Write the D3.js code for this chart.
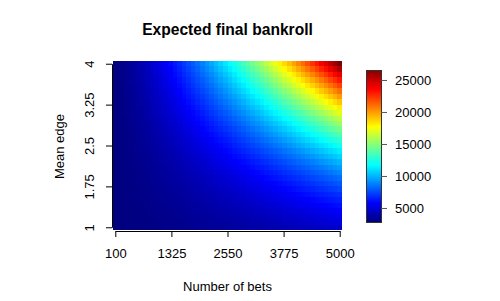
<!DOCTYPE html>
<html>
<head>
<meta charset="utf-8">
<script src="https://cdn.jsdelivr.net/npm/d3@7"></script>
<style>
  body { margin: 0; background: #fff; }
  text { font-family: "Liberation Sans", Arial, sans-serif; fill: #000; }
</style>
</head>
<body>
<div id="chart"></div>
<script>
// number of bets (columns) and mean edge (rows, bottom to top)
const bets = [100, 200, 300, 400, 500, 600, 700, 800, 900, 1000,
  1100, 1200, 1300, 1400, 1500, 1600, 1700, 1800, 1900, 2000,
  2100, 2200, 2300, 2400, 2500, 2600, 2700, 2800, 2900, 3000,
  3100, 3200, 3300, 3400, 3500, 3600, 3700, 3800, 3900, 4000,
  4100, 4200, 4300, 4400, 4500, 4600, 4700, 4800, 4900, 5000];
const edges = [1.0, 1.1, 1.2, 1.3, 1.4, 1.5, 1.6, 1.7, 1.8, 1.9, 2.0, 2.1, 2.2, 2.3, 2.4, 2.5,
  2.6, 2.7, 2.8, 2.9, 3.0, 3.1, 3.2, 3.3, 3.4, 3.5, 3.6, 3.7, 3.8, 3.9, 4.0];

// expected final bankroll, one row per edge value
const bankroll = [
  [2810,2810,2830,2840,2860,2880,2900,2920,2940,2960,2990,3020,3040,3070,3100,3130,3170,3200,3230,3270,3300,3340,3370,3410,3450,3490,3530,3570,3610,3660,3700,3740,3790,3830,3880,3930,3970,4020,4070,4120,4170,4220,4270,4320,4370,4420,4480,4530,4590,4640],
  [2810,2820,2830,2850,2870,2890,2910,2940,2970,3000,3030,3060,3090,3120,3160,3200,3230,3270,3310,3350,3390,3440,3480,3530,3570,3620,3670,3710,3760,3810,3870,3920,3970,4020,4080,4130,4190,4250,4300,4360,4420,4480,4540,4600,4660,4730,4790,4850,4920,4980],
  [2810,2820,2840,2860,2880,2910,2930,2960,2990,3030,3060,3100,3140,3180,3220,3260,3300,3350,3390,3440,3490,3540,3590,3640,3700,3750,3810,3860,3920,3980,4040,4100,4160,4220,4290,4350,4420,4480,4550,4620,4690,4750,4830,4900,4970,5040,5110,5190,5260,5340],
  [2810,2820,2840,2870,2890,2920,2950,2990,3020,3060,3100,3140,3190,3230,3280,3330,3380,3430,3480,3540,3590,3650,3710,3770,3830,3890,3960,4020,4090,4150,4220,4290,4360,4430,4500,4580,4650,4730,4810,4880,4960,5040,5120,5200,5290,5370,5450,5540,5620,5710],
  [2810,2830,2850,2870,2900,2940,2970,3010,3050,3090,3140,3190,3240,3290,3340,3400,3450,3510,3570,3630,3700,3760,3830,3900,3970,4040,4110,4180,4260,4330,4410,4490,4570,4650,4730,4810,4900,4980,5070,5160,5250,5340,5430,5520,5610,5710,5800,5900,6000,6100],
  [2810,2830,2850,2880,2920,2950,2990,3040,3080,3130,3180,3230,3290,3350,3410,3470,3530,3600,3670,3740,3810,3880,3950,4030,4110,4190,4270,4350,4430,4520,4610,4690,4780,4870,4970,5060,5150,5250,5350,5450,5550,5650,5750,5850,5960,6060,6170,6280,6390,6500],
  [2810,2830,2860,2890,2930,2970,3020,3060,3110,3170,3220,3280,3350,3410,3480,3540,3620,3690,3760,3840,3920,4000,4080,4170,4250,4340,4430,4520,4620,4710,4810,4910,5010,5110,5210,5310,5420,5530,5630,5740,5850,5970,6080,6200,6310,6430,6550,6670,6790,6910],
  [2810,2840,2870,2900,2940,2990,3040,3090,3150,3210,3270,3340,3400,3480,3550,3630,3700,3780,3870,3950,4040,4130,4220,4320,4410,4510,4610,4710,4810,4920,5030,5130,5240,5360,5470,5590,5700,5820,5940,6060,6190,6310,6440,6560,6690,6820,6950,7090,7220,7360],
  [2810,2840,2870,2910,2960,3010,3060,3120,3180,3250,3320,3390,3470,3540,3620,3710,3800,3880,3980,4070,4170,4260,4370,4470,4570,4680,4790,4900,5020,5130,5250,5370,5490,5610,5740,5870,6000,6130,6260,6390,6530,6660,6800,6940,7090,7230,7370,7520,7670,7820],
  [2820,2840,2880,2930,2970,3030,3090,3150,3220,3290,3370,3450,3530,3620,3710,3800,3900,3990,4090,4200,4300,4410,4520,4640,4750,4870,4990,5120,5240,5370,5500,5630,5760,5900,6040,6180,6320,6460,6610,6750,6900,7050,7210,7360,7520,7670,7830,8000,8160,8320],
  [2820,2850,2890,2940,2990,3050,3120,3190,3260,3340,3430,3510,3600,3700,3800,3900,4000,4110,4220,4330,4450,4570,4690,4810,4940,5070,5200,5340,5480,5620,5760,5900,6050,6200,6350,6500,6660,6810,6970,7140,7300,7460,7630,7800,7970,8150,8320,8500,8680,8860],
  [2820,2850,2900,2950,3010,3080,3150,3220,3310,3390,3480,3580,3680,3780,3890,4000,4110,4230,4350,4480,4600,4730,4870,5000,5140,5280,5430,5580,5730,5880,6030,6190,6350,6510,6680,6850,7020,7190,7360,7540,7720,7900,8080,8270,8450,8640,8840,9030,9230,9420],
  [2820,2860,2910,2960,3030,3100,3180,3260,3350,3450,3550,3650,3760,3870,3990,4110,4230,4360,4490,4630,4770,4910,5060,5200,5360,5510,5670,5830,5990,6160,6330,6500,6680,6860,7040,7220,7400,7590,7780,7970,8170,8370,8570,8770,8970,9180,9390,9600,9820,10030],
  [2820,2860,2920,2980,3050,3130,3210,3300,3400,3510,3610,3730,3850,3970,4100,4230,4360,4500,4650,4800,4950,5100,5260,5420,5590,5760,5930,6100,6280,6460,6650,6840,7030,7220,7420,7620,7820,8020,8230,8440,8660,8870,9090,9310,9530,9760,9990,10220,10450,10690],
  [2820,2870,2930,2990,3070,3160,3250,3350,3450,3560,3680,3810,3930,4070,4210,4350,4500,4650,4800,4960,5130,5300,5470,5640,5820,6010,6190,6380,6580,6780,6980,7180,7390,7600,7810,8030,8240,8470,8690,8920,9150,9380,9620,9860,10100,10350,10600,10850,11100,11350],
  [2830,2870,2940,3010,3090,3190,3290,3390,3510,3630,3760,3890,4030,4180,4330,4480,4640,4810,4970,5150,5330,5510,5700,5890,6080,6280,6480,6690,6900,7110,7330,7550,7780,8000,8240,8470,8710,8950,9190,9440,9690,9950,10200,10460,10720,10990,11260,11530,11800,12080],
  [2830,2880,2950,3030,3120,3220,3330,3440,3570,3700,3840,3980,4130,4290,4450,4620,4790,4970,5150,5340,5530,5730,5930,6140,6350,6560,6780,7010,7230,7470,7700,7940,8180,8430,8680,8930,9190,9450,9720,9980,10250,10530,10810,11090,11370,11660,11950,12240,12540,12840],
  [2830,2890,2960,3040,3140,3250,3370,3490,3630,3770,3920,4070,4240,4400,4580,4760,4950,5140,5340,5540,5750,5960,6180,6400,6630,6860,7100,7340,7580,7830,8090,8340,8600,8870,9140,9410,9690,9970,10260,10550,10840,11130,11430,11740,12040,12350,12670,12980,13300,13630],
  [2830,2890,2970,3060,3170,3280,3410,3540,3690,3840,4000,4170,4340,4520,4710,4910,5110,5320,5530,5750,5970,6200,6430,6670,6920,7170,7420,7680,7940,8210,8480,8760,9040,9330,9620,9910,10210,10510,10820,11130,11450,11760,12080,12410,12740,13070,13410,13750,14100,14440],
  [2840,2900,2980,3080,3200,3320,3450,3600,3750,3920,4090,4270,4460,4650,4850,5060,5280,5500,5730,5960,6200,6440,6700,6950,7220,7480,7760,8030,8320,8600,8900,9190,9500,9800,10110,10430,10750,11070,11400,11740,12070,12410,12760,13110,13460,13820,14180,14550,14920,15290],
  [2840,2910,3000,3100,3220,3360,3500,3660,3820,4000,4180,4370,4570,4780,5000,5220,5450,5690,5930,6180,6440,6700,6970,7240,7530,7810,8100,8400,8700,9010,9330,9640,9970,10290,10630,10970,11310,11660,12010,12360,12720,13090,13460,13830,14210,14590,14980,15370,15770,16170],
  [2840,2910,3010,3120,3250,3390,3550,3710,3890,4080,4270,4480,4690,4910,5140,5380,5630,5880,6140,6410,6680,6970,7250,7550,7850,8150,8460,8780,9100,9430,9770,10110,10450,10800,11160,11520,11880,12260,12630,13010,13400,13790,14180,14580,14980,15390,15810,16220,16650,17070],
  [2840,2920,3020,3140,3280,3430,3600,3770,3960,4160,4370,4590,4820,5050,5300,5550,5810,6090,6360,6650,6940,7240,7540,7860,8180,8500,8830,9170,9520,9870,10220,10590,10950,11330,11710,12090,12480,12880,13280,13680,14090,14510,14930,15350,15780,16220,16660,17100,17550,18010],
  [2850,2930,3040,3170,3310,3470,3650,3830,4030,4250,4470,4700,4940,5200,5460,5730,6010,6290,6590,6890,7200,7520,7850,8180,8520,8860,9220,9580,9940,10320,10700,11080,11470,11870,12270,12680,13090,13510,13940,14370,14810,15250,15700,16150,16610,17070,17540,18010,18490,18970],
  [2850,2940,3050,3190,3340,3510,3700,3900,4110,4340,4570,4820,5080,5340,5620,5910,6200,6510,6820,7140,7470,7810,8160,8510,8870,9240,9610,9990,10380,10780,11180,11590,12000,12430,12850,13290,13730,14170,14630,15080,15550,16020,16490,16970,17460,17950,18450,18950,19450,19970],
  [2850,2950,3070,3210,3380,3560,3750,3960,4190,4430,4680,4940,5210,5500,5790,6090,6410,6730,7060,7400,7750,8110,8480,8850,9230,9620,10020,10420,10830,11260,11680,12110,12550,13000,13450,13910,14380,14850,15330,15820,16310,16800,17310,17820,18330,18850,19380,19910,20450,20990],
  [2850,2950,3080,3240,3410,3600,3810,4030,4270,4520,4790,5060,5350,5650,5960,6280,6620,6960,7310,7670,8040,8420,8800,9200,9600,10020,10440,10870,11300,11750,12200,12650,13120,13590,14070,14560,15050,15550,16060,16570,17090,17620,18150,18690,19230,19780,20340,20900,21470,22050],
  [2860,2960,3100,3260,3440,3640,3870,4100,4350,4620,4900,5190,5500,5810,6140,6480,6830,7190,7560,7940,8330,8730,9140,9560,9990,10420,10870,11320,11780,12250,12730,13210,13700,14200,14710,15220,15740,16270,16800,17350,17900,18450,19010,19580,20160,20740,21330,21920,22520,23130],
  [2860,2970,3110,3290,3480,3690,3920,4170,4440,4720,5010,5320,5640,5980,6320,6680,7050,7430,7820,8230,8640,9060,9490,9930,10380,10840,11310,11790,12270,12770,13270,13780,14300,14820,15360,15900,16450,17010,17570,18140,18720,19310,19900,20500,21110,21720,22340,22970,23600,24240],
  [2860,2980,3130,3310,3510,3740,3980,4250,4520,4820,5130,5460,5790,6150,6510,6890,7280,7680,8090,8510,8950,9390,9850,10310,10790,11270,11760,12270,12780,13300,13830,14360,14910,15470,16030,16600,17180,17770,18360,18960,19570,20190,20810,21450,22080,22730,23390,24050,24710,25390],
  [2870,2990,3150,3340,3550,3790,4040,4320,4610,4920,5250,5590,5950,6320,6700,7100,7510,7930,8370,8810,9270,9730,10210,10700,11200,11710,12230,12760,13290,13840,14400,14960,15540,16120,16720,17320,17920,18540,19170,19800,20440,21090,21750,22410,23090,23770,24450,25150,25850,26560]
];

const xTicks = [100, 1325, 2550, 3775, 5000];
const yTicks = [1, 1.75, 2.5, 3.25, 4];
const legendTicks = [5000, 10000, 15000, 20000, 25000];
const jet = ["#00007F", "#0000FF", "#007FFF", "#00FFFF", "#7FFF7F", "#FFFF00", "#FF7F00", "#FF0000", "#7F0000"];

const width = 500;
const height = 301;
const svg = d3.select("#chart").append("svg")
  .attr("width", width)
  .attr("height", height);

svg.append("rect").attr("width", width).attr("height", height).attr("fill", "#fff");

const x = d3.scaleLinear().domain([50, 5050]).range([113, 342]);
const y = d3.scaleLinear().domain([0.95, 4.05]).range([230, 61]);

// jet colour ramp spread over the data range
const zExtent = d3.extent(bankroll.flat());
const zStops = jet.map((c, i) => zExtent[0] + (zExtent[1] - zExtent[0]) * i / (jet.length - 1));
const color = d3.scaleLinear().domain(zStops).range(jet).interpolate(d3.interpolateRgb);

const halfX = (bets[1] - bets[0]) / 2;
const halfY = (edges[1] - edges[0]) / 2;

const cells = [];
bankroll.forEach((row, i) => {
  row.forEach((v, j) => cells.push({ n: bets[j], e: edges[i], v: v }));
});

svg.append("g")
  .attr("shape-rendering", "crispEdges")
  .selectAll("rect")
  .data(cells)
  .join("rect")
  .attr("x", d => x(d.n - halfX))
  .attr("y", d => y(d.e + halfY))
  .attr("width", d => x(d.n + halfX) - x(d.n - halfX))
  .attr("height", d => y(d.e - halfY) - y(d.e + halfY))
  .attr("fill", d => color(d.v));

// x axis
const xAxis = svg.append("g")
  .attr("transform", "translate(0,231)")
  .call(d3.axisBottom(x).tickValues(xTicks).tickFormat(d3.format("d")).tickSize(6));
xAxis.select(".domain").remove();
xAxis.append("line")
  .attr("x1", x(xTicks[0]) + 0.5).attr("x2", x(xTicks[xTicks.length - 1]) + 0.5)
  .attr("y1", 0.5).attr("y2", 0.5)
  .attr("stroke", "#000");
xAxis.selectAll("text")
  .attr("y", 27).attr("dy", 0)
  .attr("font-size", 13)
  .attr("font-family", "Liberation Sans, Arial, sans-serif");

// y axis, labels turned like R does
const yAxis = svg.append("g")
  .attr("transform", "translate(112,0)")
  .call(d3.axisLeft(y).tickValues(yTicks).tickFormat(d => String(d)).tickSize(6));
yAxis.select(".domain").remove();
yAxis.append("line")
  .attr("x1", 0.5).attr("x2", 0.5)
  .attr("y1", y(yTicks[0]) + 0.5).attr("y2", y(yTicks[yTicks.length - 1]) + 0.5)
  .attr("stroke", "#000");
yAxis.selectAll("text")
  .attr("x", 0).attr("y", -18).attr("dy", 0)
  .attr("text-anchor", "middle")
  .attr("transform", "rotate(-90)")
  .attr("font-size", 13)
  .attr("font-family", "Liberation Sans, Arial, sans-serif");

// titles
svg.append("text")
  .attr("x", 227.5).attr("y", 35)
  .attr("text-anchor", "middle")
  .attr("font-size", 15.6)
  .attr("font-weight", "bold")
  .text("Expected final bankroll");

svg.append("text")
  .attr("x", 227.5).attr("y", 291)
  .attr("text-anchor", "middle")
  .attr("font-size", 13)
  .text("Number of bets");

svg.append("text")
  .attr("transform", "translate(64,146.5) rotate(-90)")
  .attr("text-anchor", "middle")
  .attr("font-size", 13)
  .text("Mean edge");

// colour legend
const lx = 366, lw = 15;
const legendY = d3.scaleLinear().domain(zExtent).range([222, 70]);
const steps = d3.range(zExtent[0], zExtent[1], (zExtent[1] - zExtent[0]) / 150);

svg.append("g")
  .attr("shape-rendering", "crispEdges")
  .selectAll("rect")
  .data(steps)
  .join("rect")
  .attr("x", lx)
  .attr("width", lw)
  .attr("y", d => legendY(d) - 1.2)
  .attr("height", 1.5)
  .attr("fill", d => color(d));

svg.append("rect")
  .attr("x", lx + 0.5).attr("y", 70.5)
  .attr("width", lw).attr("height", 152)
  .attr("fill", "none")
  .attr("stroke", "#333");

const lAxis = svg.append("g")
  .attr("transform", `translate(${lx + lw},0)`)
  .call(d3.axisRight(legendY).tickValues(legendTicks).tickFormat(d3.format("d")).tickSize(6).tickPadding(8));
lAxis.select(".domain").remove();
lAxis.selectAll("line").attr("stroke", "#555");
lAxis.selectAll("text")
  .attr("font-size", 13)
  .attr("font-family", "Liberation Sans, Arial, sans-serif");
</script>
</body>
</html>
